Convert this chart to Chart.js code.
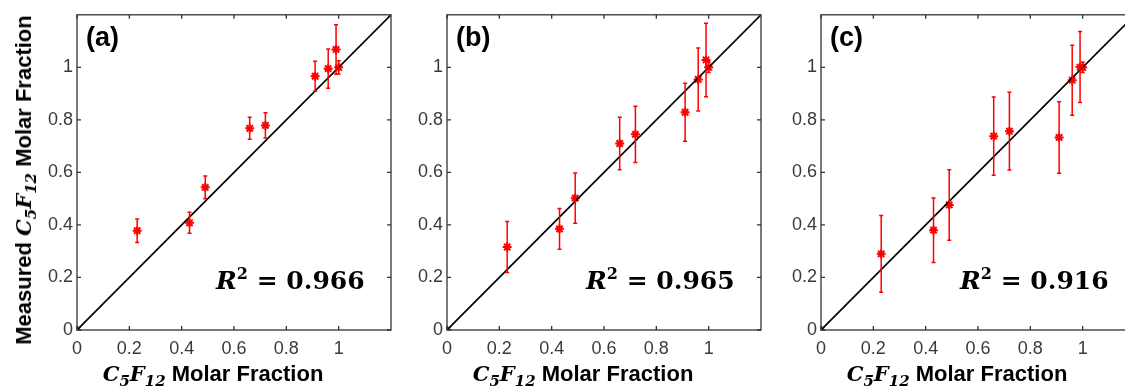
<!DOCTYPE html>
<html>
<head>
<meta charset="utf-8">
<script src="https://cdn.jsdelivr.net/npm/chart.js@4"></script>
<style>
  body { margin: 0; width: 1125px; height: 387px; overflow: hidden; position: relative; background: #fff; }
  canvas { position: absolute; top: 0; }
  .lbl { position: absolute; white-space: nowrap; color: #000; }
  .ttl { font: bold 22px "Liberation Sans", Arial, sans-serif; }
  .ttl i { font-family: "DejaVu Serif", serif; font-size: 21px; }
  .ttl sub { font-size: 15px; vertical-align: -5px; line-height: 0; }
  .tag { font: bold 27px "Liberation Sans", Arial, sans-serif; }
  .r2 { font: bold 25px "DejaVu Serif", serif; }
  .r2 sup { font-size: 16px; vertical-align: 10px; line-height: 0; }
</style>
</head>
<body>
<canvas id="pa" width="400" height="387"></canvas>
<canvas id="pb" width="400" height="387"></canvas>
<canvas id="pc" width="400" height="387"></canvas>
<script>
// actual C5F12 fraction (x) shared by all panels
const xFrac = [0, 0.23, 0.43, 0.49, 0.66, 0.72, 0.91, 0.96, 0.99, 1.0];

// measured fraction and error for each panel
const measA = [0, 0.378, 0.408, 0.543, 0.768, 0.779, 0.966, 0.995, 1.068, 1.0];
const errA  = [0, 0.045, 0.040, 0.043, 0.042, 0.048, 0.057, 0.075, 0.094, 0.025];
const measB = [0, 0.316, 0.385, 0.502, 0.710, 0.745, 0.829, 0.954, 1.028, 1.0];
const errB  = [0, 0.097, 0.078, 0.096, 0.100, 0.107, 0.110, 0.120, 0.140, 0.02];
const measC = [0, 0.290, 0.380, 0.476, 0.738, 0.757, 0.733, 0.951, 1.001, 1.0];
const errC  = [0, 0.146, 0.123, 0.134, 0.149, 0.148, 0.136, 0.133, 0.135, 0.02];

const fitLine = [0, 1.2];
const tickVals = [0, 0.2, 0.4, 0.6, 0.8, 1];
const tags = ['(a)', '(b)', '(c)'];
const r2Vals = ['0.966', '0.965', '0.916'];

// draw vertical error bars with small caps
const errorBars = {
  id: 'errorBars',
  afterDatasetsDraw(chart) {
    const ds = chart.data.datasets[1]
    const { x, y } = chart.scales
    const ctx = chart.ctx
    ctx.save()
    ctx.strokeStyle = '#ff0000'
    ctx.lineWidth = 1.5
    ds.data.forEach((p, i) => {
      const e = ds.err[i]
      if (!e) return
      const px = x.getPixelForValue(p.x)
      const y1 = y.getPixelForValue(p.y - e)
      const y2 = y.getPixelForValue(p.y + e)
      ctx.beginPath()
      ctx.moveTo(px, y1); ctx.lineTo(px, y2)
      ctx.moveTo(px - 2, y1); ctx.lineTo(px + 2, y1)
      ctx.moveTo(px - 2, y2); ctx.lineTo(px + 2, y2)
      ctx.stroke()
    })
    ctx.restore()
  }
}

// matlab style box with inward ticks on all sides
const boxTicks = {
  id: 'boxTicks',
  afterDraw(chart) {
    const { ctx, chartArea: a, scales: { x, y } } = chart
    ctx.save()
    ctx.strokeStyle = '#333'
    ctx.lineWidth = 1.3
    ctx.strokeRect(a.left, a.top, a.right - a.left, a.bottom - a.top)
    ctx.beginPath()
    tickVals.forEach(v => {
      const px = x.getPixelForValue(v)
      const py = y.getPixelForValue(v)
      ctx.moveTo(px, a.bottom); ctx.lineTo(px, a.bottom - 4)
      ctx.moveTo(px, a.top); ctx.lineTo(px, a.top + 4)
      ctx.moveTo(a.left, py); ctx.lineTo(a.left + 4, py)
      ctx.moveTo(a.right, py); ctx.lineTo(a.right - 4, py)
    })
    ctx.stroke()
    ctx.restore()
  }
}

const tickFont = { family: '"Liberation Sans", Arial, sans-serif', size: 18 }
const fmt = v => String(Math.round(v * 10) / 10)

function axis(isX) {
  return {
    type: 'linear',
    min: 0,
    max: 1.2,
    grid: { display: false, drawTicks: false },
    border: { display: false },
    afterBuildTicks: s => { s.ticks = tickVals.map(v => ({ value: v })) },
    afterFit: s => { if (isX) s.height = 57; else s.width = 77 },
    ticks: {
      color: '#3a3a3a',
      font: tickFont,
      padding: isX ? 8 : 4,
      maxRotation: 0,
      autoSkip: false,
      callback: fmt
    }
  }
}

function makePanel(id, left, meas, err, idx) {
  const cv = document.getElementById(id)
  cv.style.left = left + 'px'
  new Chart(cv.getContext('2d'), {
    type: 'scatter',
    data: {
      datasets: [{
        type: 'line',
        data: fitLine.map(v => ({ x: v, y: v })),
        borderColor: '#000',
        borderWidth: 1.7,
        pointRadius: 0,
        fill: false
      }, {
        data: xFrac.map((v, i) => ({ x: v, y: meas[i] })),
        err: err,
        pointStyle: 'star',
        pointRadius: 4.5,
        borderColor: '#ff0000',
        backgroundColor: '#ff0000',
        borderWidth: 2
      }]
    },
    options: {
      responsive: false,
      animation: false,
      layout: { padding: { left: 0, right: 9, top: 14, bottom: 0 } },
      scales: { x: axis(true), y: axis(false) },
      plugins: { legend: { display: false }, tooltip: { enabled: false } }
    },
    plugins: [errorBars, boxTicks]
  })

  // chart area left edge on the page is left + 77
  const L = left + 77
  const tag = document.createElement('div')
  tag.className = 'lbl tag'
  tag.textContent = tags[idx]
  tag.style.left = (L + 9) + 'px'
  tag.style.top = '22px'
  document.body.appendChild(tag)

  const r2 = document.createElement('div')
  r2.className = 'lbl r2'
  r2.innerHTML = '<i>R</i><sup>2</sup> = ' + r2Vals[idx]
  r2.style.left = (L + 139) + 'px'
  r2.style.top = '266px'
  document.body.appendChild(r2)

  const xt = document.createElement('div')
  xt.className = 'lbl ttl'
  xt.innerHTML = '<i>C<sub>5</sub>F<sub>12</sub></i> Molar Fraction'
  xt.style.left = (L + 136) + 'px'
  xt.style.top = '361px'
  xt.style.transform = 'translateX(-50%)'
  document.body.appendChild(xt)
}

makePanel('pa', 0, measA, errA, 0)
makePanel('pb', 370, measB, errB, 1)
makePanel('pc', 744, measC, errC, 2)

const yt = document.createElement('div')
yt.className = 'lbl ttl'
yt.innerHTML = 'Measured <i>C<sub>5</sub>F<sub>12</sub></i> Molar Fraction'
yt.style.left = '24px'
yt.style.top = '180px'
yt.style.transform = 'translate(-50%, -50%) rotate(-90deg)'
document.body.appendChild(yt)
</script>
</body>
</html>
